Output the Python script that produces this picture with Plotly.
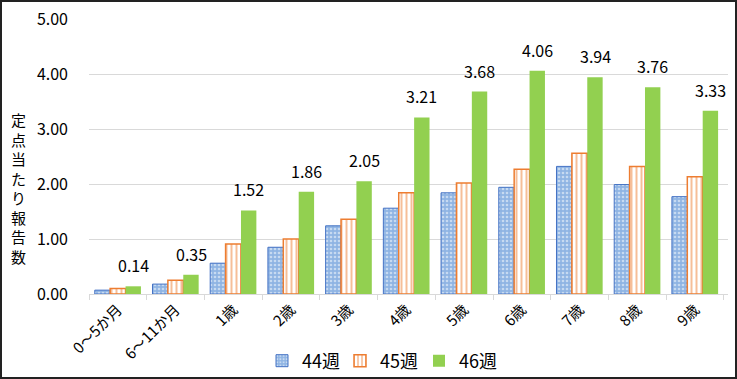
import plotly.graph_objects as go

categories = ["0～5か月", "6～11か月", "1歳", "2歳", "3歳", "4歳", "5歳", "6歳", "7歳", "8歳", "9歳"]
w44 = [0.07, 0.18, 0.56, 0.85, 1.24, 1.56, 1.84, 1.94, 2.32, 1.99, 1.77]
w45 = [0.10, 0.25, 0.91, 1.00, 1.36, 1.84, 2.02, 2.27, 2.56, 2.32, 2.13]
w46 = [0.14, 0.35, 1.52, 1.86, 2.05, 3.21, 3.68, 4.06, 3.94, 3.76, 3.33]
series_names = ["44週", "45週", "46週"]
y_title_chars = ["定", "点", "当", "た", "り", "報", "告", "数"]

FONT = "Noto Sans CJK JP"

L, R, T, B = 89, 9, 19, 85
W, H = 737, 379
pw, ph = W - L - R, H - T - B
BARGAP = 0.2

def px_x(x):
    return (x - L) / pw

def px_y(y):
    return (T + ph - y) / ph

fig = go.Figure()
fig.add_trace(go.Bar(
    x=categories, y=w44, name=series_names[0], legend="legend",
    marker=dict(color="#bdd7ee", line=dict(color="#4472c4", width=1),
                pattern=dict(shape=".", fgcolor="#ffffff", bgcolor="#8fb4e3", size=4, solidity=0.35)),
))
fig.add_trace(go.Bar(
    x=categories, y=w45, name=series_names[1], legend="legend2",
    marker=dict(color="#ffffff", line=dict(color="#ed7d31", width=1.5),
                pattern=dict(shape="|", fgcolor="#ed7d31", bgcolor="#ffffff", size=5, solidity=0.4)),
))
fig.add_trace(go.Bar(
    x=categories, y=w46, name=series_names[2], legend="legend3",
    marker=dict(color="#92d050", line=dict(width=0)),
))

# value labels above the 46週 bars
cat_px = pw / len(categories)
bar_px = cat_px * (1 - BARGAP) / 3
annotations = []
for c, v in zip(categories, w46):
    annotations.append(dict(text=f"{v:.2f}", x=c, y=v, xref="x", yref="y",
                            xshift=bar_px, yshift=7, xanchor="center", yanchor="bottom",
                            showarrow=False, font=dict(size=16, family=FONT, color="#000000")))

annotations.append(dict(text="<br>".join(y_title_chars), xref="paper", yref="paper",
                        x=px_x(18), y=px_y(188), xanchor="center", yanchor="middle",
                        showarrow=False, font=dict(size=15, family=FONT, color="#000000")))

def legend_at(xpx):
    return dict(orientation="h", x=px_x(xpx), xanchor="left", y=px_y(361), yanchor="middle",
                font=dict(size=18, family=FONT), itemwidth=30, bgcolor="rgba(0,0,0,0)",
                borderwidth=0)

fig.update_layout(
    width=W, height=H,
    margin=dict(l=L, r=R, t=T, b=B, autoexpand=False),
    paper_bgcolor="white", plot_bgcolor="white",
    barmode="group", bargap=BARGAP, bargroupgap=0.0,
    font=dict(family=FONT, size=16, color="#000000"),
    showlegend=True,
    legend=legend_at(262),
    legend2=legend_at(340),
    legend3=legend_at(419),
    shapes=[dict(type="rect", xref="paper", yref="paper",
                 x0=px_x(1), x1=px_x(W - 1),
                 y0=px_y(H - 1), y1=px_y(1),
                 line=dict(color="#222222", width=2))],
    annotations=annotations,
)
fig.update_xaxes(
    showline=True, linecolor="#d9d9d9", linewidth=1, automargin=False,
    ticks="outside", tickson="boundaries", ticklen=5, tickcolor="#d9d9d9",
    tickangle=-45, tickfont=dict(size=15, family=FONT),
)
fig.update_yaxes(
    range=[0, 5], dtick=1, tickformat=".2f", automargin=False,
    showgrid=True, gridcolor="#d9d9d9", gridwidth=1,
    zeroline=False, showline=False, ticks="",
    ticklabelstandoff=20, tickfont=dict(size=16, family=FONT),
)

fig.write_html("out.html", config={"displayModeBar": False},
               post_script="document.body.style.margin='0';document.body.style.padding='0';")
